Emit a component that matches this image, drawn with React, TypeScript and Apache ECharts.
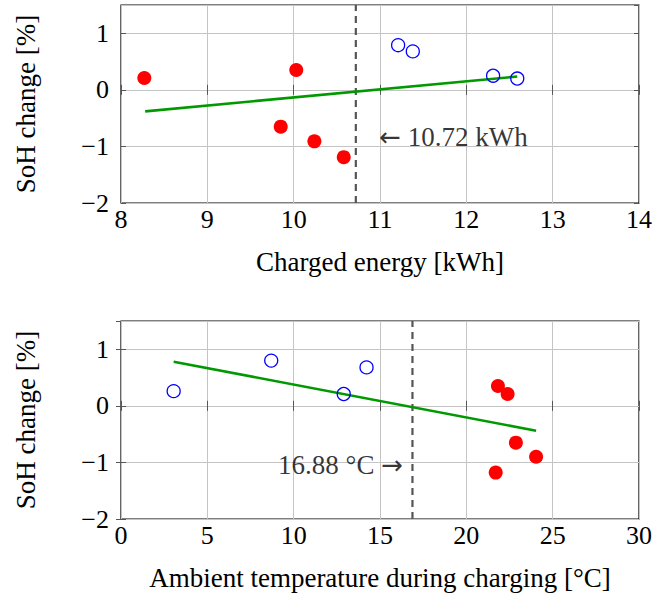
import React, { useEffect, useRef } from "react";
import * as echarts from "echarts";

// ---- data ----
const energyRed: number[][] = [[8.27, 0.21], [10.03, 0.35], [9.85, -0.65], [10.24, -0.91], [10.58, -1.19]];
const energyBlue: number[][] = [[11.21, 0.79], [11.38, 0.68], [12.31, 0.25], [12.59, 0.2]];
const energyFit: number[][] = [[8.28, -0.38], [12.59, 0.235]];
const energyThreshold = 10.72;
const energyLabel = "{arr|\u2190} 10.72 kWh";

const tempBlue: number[][] = [[3.05, 0.26], [8.7, 0.8], [12.9, 0.21], [14.22, 0.68]];
const tempRed: number[][] = [[21.83, 0.35], [22.39, 0.21], [22.87, -0.65], [24.04, -0.9], [21.7, -1.18]];
const tempFit: number[][] = [[3.05, 0.78], [24.04, -0.44]];
const tempThreshold = 16.88;
const tempLabel = "16.88 \u00b0C {arr|\u2192}";

const yMin = -2;
const yMax = 1.5;
const energyRange = [8, 14];
const tempRange = [0, 30];

const FONT = "Liberation Serif, DejaVu Serif, serif";

export default function App() {
  const ref = useRef<HTMLDivElement>(null);
  useEffect(() => {
    document.body.style.margin = "0";
    const chart = echarts.init(ref.current!, null, { renderer: "svg" });
    const gridW = 518;
    const gridH = 198;
    const grids = [
      { left: 121, top: 5, width: gridW, height: gridH },
      { left: 121, top: 321, width: gridW, height: gridH },
    ].map((g) => ({ ...g, show: true, borderColor: "#000", borderWidth: 1.2, backgroundColor: "transparent" }));

    const fmtNum = (v: number) => (v < 0 ? "\u2212" + Math.abs(v) : String(v));

    const mkX = (gi: number, range: number[], interval: number, name: string) => [
      {
        type: "value",
        gridIndex: gi,
        min: range[0],
        max: range[1],
        interval,
        position: "bottom",
        name,
        nameLocation: "middle",
        nameGap: 45,
        nameTextStyle: { fontFamily: FONT, fontSize: 27, color: "#000" },
        axisLine: { show: false },
        axisTick: { show: true, inside: true, length: 5, lineStyle: { color: "#555" } },
        axisLabel: { fontFamily: FONT, fontSize: 26, color: "#000", margin: 3, formatter: fmtNum },
        splitLine: { show: true, lineStyle: { color: "#c4c4c4", width: 1 } },
      },
      {
        type: "value",
        gridIndex: gi,
        min: range[0],
        max: range[1],
        interval,
        position: "top",
        axisLine: { show: false },
        axisTick: { show: true, inside: true, length: 5, lineStyle: { color: "#555" } },
        axisLabel: { show: false },
        splitLine: { show: false },
      },
    ];
    const mkY = (gi: number) => [
      {
        type: "value",
        gridIndex: gi,
        min: yMin,
        max: yMax,
        interval: 1,
        position: "left",
        name: "SoH change [%]",
        nameLocation: "middle",
        nameGap: 82,
        nameTextStyle: { fontFamily: FONT, fontSize: 27, color: "#000" },
        axisLine: { show: false },
        axisTick: { show: true, inside: true, length: 5, lineStyle: { color: "#555" } },
        axisLabel: { fontFamily: FONT, fontSize: 26, color: "#000", margin: 12, showMaxLabel: false, formatter: fmtNum },
        splitLine: { show: true, lineStyle: { color: "#c4c4c4", width: 1 } },
      },
      {
        type: "value",
        gridIndex: gi,
        min: yMin,
        max: yMax,
        interval: 1,
        position: "right",
        axisLine: { show: false },
        axisTick: { show: true, inside: true, length: 5, lineStyle: { color: "#555" } },
        axisLabel: { show: false },
        splitLine: { show: false },
      },
    ];

    const redSeries = (data: number[][], xi: number, yi: number) => ({
      type: "scatter",
      xAxisIndex: xi,
      yAxisIndex: yi,
      data,
      symbol: "circle",
      symbolSize: 14,
      itemStyle: { color: "#ff0000", opacity: 1 },
      z: 5,
    });
    const blueSeries = (data: number[][], xi: number, yi: number) => ({
      type: "scatter",
      xAxisIndex: xi,
      yAxisIndex: yi,
      data,
      symbol: "circle",
      symbolSize: 13,
      itemStyle: { color: "rgba(0,0,0,0)", borderColor: "#0000ff", borderWidth: 1.3, opacity: 1 },
      z: 5,
    });
    const fitSeries = (data: number[][], xi: number, yi: number) => ({
      type: "line",
      xAxisIndex: xi,
      yAxisIndex: yi,
      data,
      showSymbol: false,
      symbol: "none",
      lineStyle: { color: "#009900", width: 2.6 },
      z: 4,
    });
    const threshSeries = (x: number, xi: number, yi: number) => ({
      type: "line",
      xAxisIndex: xi,
      yAxisIndex: yi,
      data: [[x, yMin], [x, yMax]],
      showSymbol: false,
      symbol: "none",
      lineStyle: { color: "#555", width: 2.2, type: [7, 5] },
      z: 3,
    });
    const labelSeries = (pt: number[], text: string, pos: string, xi: number, yi: number) => ({
      type: "scatter",
      xAxisIndex: xi,
      yAxisIndex: yi,
      data: [pt],
      symbolSize: 0,
      itemStyle: { color: "rgba(0,0,0,0)" },
      label: {
        show: true,
        position: pos,
        distance: 0,
        formatter: text,
        fontFamily: FONT,
        fontSize: 27,
        color: "#000",
        rich: {
          arr: { fontFamily: "DejaVu Sans", fontSize: 26, color: "#000" },
        },
      },
      z: 6,
    });

    chart.setOption({
      animation: false,
      grid: grids,
      xAxis: [...mkX(0, energyRange, 1, "Charged energy [kWh]"), ...mkX(1, tempRange, 5, "Ambient temperature during charging [\u00b0C]")],
      yAxis: [...mkY(0), ...mkY(1)],
      series: [
        threshSeries(energyThreshold, 0, 0),
        fitSeries(energyFit, 0, 0),
        redSeries(energyRed, 0, 0),
        blueSeries(energyBlue, 0, 0),
        labelSeries([10.99, -0.83], energyLabel, "right", 0, 0),
        threshSeries(tempThreshold, 2, 2),
        fitSeries(tempFit, 2, 2),
        blueSeries(tempBlue, 2, 2),
        redSeries(tempRed, 2, 2),
        labelSeries([16.33, -1.05], tempLabel, "left", 2, 2),
      ],
    });
    return () => chart.dispose();
  }, []);
  return <div ref={ref} style={{ width: 664, height: 601 }} />;
}
